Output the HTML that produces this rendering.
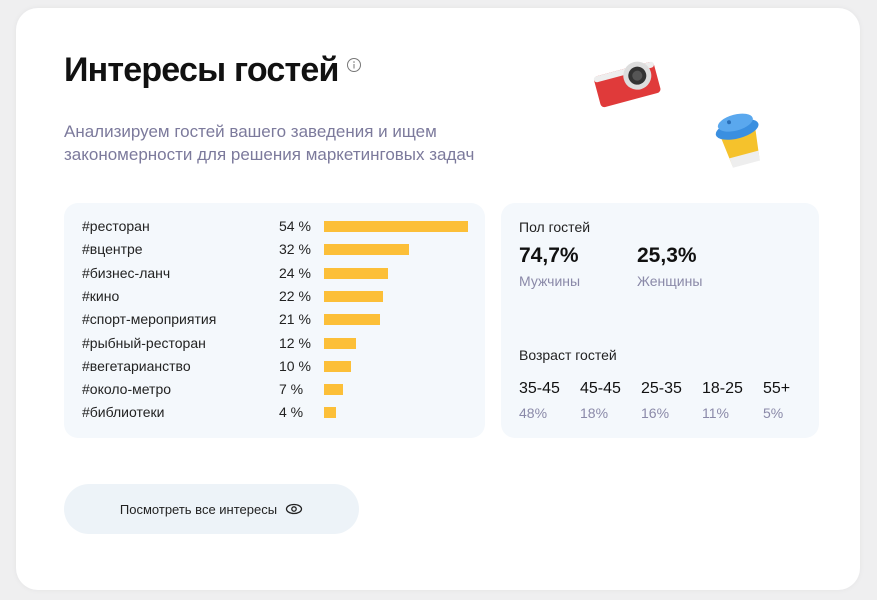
<!DOCTYPE html>
<html><head><meta charset="utf-8"><style>
body{margin:0;width:877px;height:600px;background:#efeff0;font-family:"Liberation Sans","Noto Sans CJK SC",sans-serif;position:relative;overflow:hidden}
.abs{position:absolute}
#card{left:16px;top:8px;width:844px;height:582px;background:#fff;border-radius:22px;box-shadow:0 0 6px rgba(0,0,0,0.05)}
h1{position:absolute;left:64px;top:51px;margin:0;font-size:34px;font-weight:bold;color:#111;letter-spacing:-0.8px}
.sub{left:64px;top:120px;font-size:17px;line-height:23px;color:#7c7a9c}
.panel{background:#f4f8fc;border-radius:14px}
.lbl{font-size:14px;color:#222}
.pct{font-size:14px;color:#222}
.bar{background:#fcbf38;height:11px}
.gray{color:#8a89a8}
#btn{left:64px;top:484px;width:295px;height:50px;background:#edf3f8;border-radius:25px;font-size:13px;color:#222;display:flex;align-items:center;justify-content:center;gap:8px}
</style></head><body>
<div id="card" class="abs"></div>
<h1>Интересы гостей</h1>
<svg class="abs" style="left:346px;top:57px" width="16" height="16"><circle cx="8" cy="8" r="6.5" fill="none" stroke="#777" stroke-width="1"/><line x1="8" y1="7" x2="8" y2="11.5" stroke="#777"/><circle cx="8" cy="5" r="0.8" fill="#777"/></svg>
<div class="abs sub">Анализируем гостей вашего заведения и ищем<br>закономерности для решения маркетинговых задач</div>
<svg class="abs" style="left:590px;top:55px" width="190" height="115">
<g transform="rotate(-15 35 25)"><rect x="5" y="14" width="62" height="32" rx="4" fill="#e03a3a"/><rect x="5" y="14" width="62" height="6" rx="3" fill="#eee"/><circle cx="48" cy="24" r="14" fill="#ddd"/><circle cx="48" cy="24" r="9" fill="#333"/><circle cx="48" cy="24" r="5" fill="#555"/></g>
<g transform="rotate(-15 150 85)"><path d="M132 76 L168 76 L164 108 L136 108 Z" fill="#f5c22c"/><path d="M135 100 L165 100 L164 110 L136 110Z" fill="#eee"/><ellipse cx="150" cy="74" rx="22" ry="9" fill="#3a8fe0"/><ellipse cx="150" cy="67" rx="18" ry="8" fill="#5aa8ee"/><circle cx="144" cy="65" r="2" fill="#2a6fb8"/></g>
</svg>
<div class="abs panel" style="left:64px;top:203px;width:421px;height:235px"></div>
<div id="bars"></div>
<div class="abs panel" style="left:501px;top:203px;width:318px;height:235px"></div>
<div class="abs lbl" style="left:519px;top:219px">Пол гостей</div>
<div class="abs" style="left:519px;top:244px;font-size:21px;font-weight:bold;color:#111">74,7%</div>
<div class="abs gray" style="left:519px;top:273px;font-size:14px">Мужчины</div>
<div class="abs" style="left:637px;top:244px;font-size:21px;font-weight:bold;color:#111">25,3%</div>
<div class="abs gray" style="left:637px;top:273px;font-size:14px">Женщины</div>
<div class="abs lbl" style="left:519px;top:347px">Возраст гостей</div>
<div id="ages"></div>
<div id="btn" class="abs">Посмотреть все интересы
<svg width="18" height="12"><ellipse cx="9" cy="6" rx="7.5" ry="4.5" fill="none" stroke="#222" stroke-width="1.3"/><circle cx="9" cy="6" r="2.2" fill="none" stroke="#222" stroke-width="1.3"/></svg></div>
<script>
const categories=["#ресторан","#вцентре","#бизнес-ланч","#кино","#спорт-мероприятия","#рыбный-ресторан","#вегетарианство","#около-метро","#библиотеки"];
const values=[54,32,24,22,21,12,10,7,4];
const ageGroups=["35-45","45-45","25-35","18-25","55+"];
const ageValues=[48,18,16,11,5];
const xScale=v=>v*144/54;
const rowY=i=>218+i*23.3;
const bars=document.getElementById('bars');
categories.forEach((c,i)=>{
  const y=rowY(i);
  const l=document.createElement('div');l.className='abs lbl';l.style.left='82px';l.style.top=y+'px';l.textContent=c;
  
  
  bars.appendChild(l);
  const p=document.createElement('div');p.className='abs pct';p.style.left='279px';p.style.top=y+'px';p.textContent=values[i]+' %';
  
  
  bars.appendChild(p);
  const b=document.createElement('div');b.className='abs bar';b.style.left='324px';b.style.top=(y+3)+'px';b.style.width=Math.max(12,xScale(values[i]))+'px';
  
  
  bars.appendChild(b);
});
const ages=document.getElementById('ages');
ageGroups.forEach((g,i)=>{
  const x=519+i*61;
  const a=document.createElement('div');a.className='abs';a.style.cssText='left:'+x+'px;top:380px;font-size:16px;color:#111';a.textContent=g;
  
  
  ages.appendChild(a);
  const v=document.createElement('div');v.className='abs gray';v.style.cssText='left:'+x+'px;top:405px;font-size:14px';v.textContent=ageValues[i]+'%';
  
  
  ages.appendChild(v);
});
</script>
</body></html>
